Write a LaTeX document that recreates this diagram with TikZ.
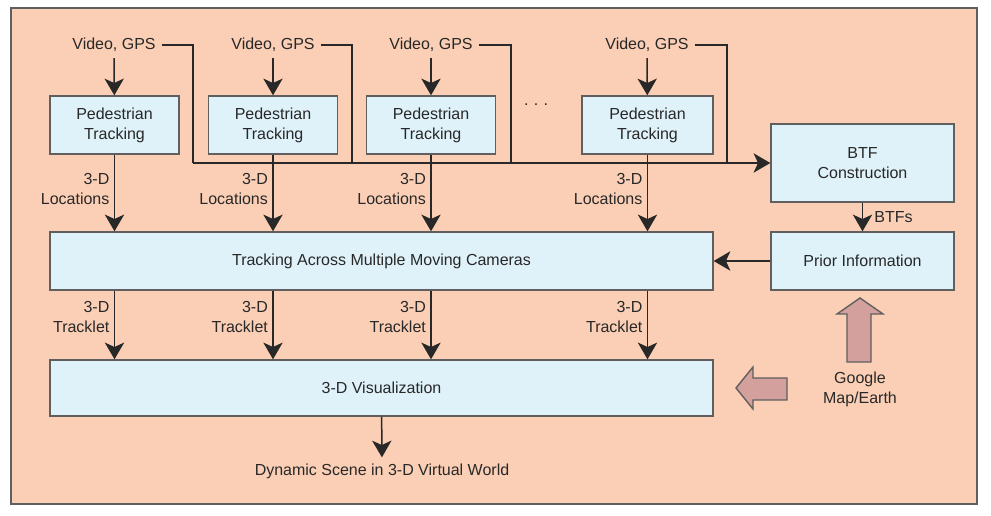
\documentclass[tikz,border=0pt]{standalone}
\usepackage{fontspec}
\setmainfont{Liberation Sans}
\usetikzlibrary{arrows.meta}
\definecolor{peach}{RGB}{251,207,181}
\definecolor{boxblue}{RGB}{223,242,250}
\definecolor{rim}{RGB}{95,95,95}
\definecolor{ink}{RGB}{40,40,40}
\definecolor{rose}{RGB}{211,160,157}
\begin{document}
\begin{tikzpicture}[x=0.02cm, y=-0.02cm, font=\fontsize{9.1}{11.5}\selectfont, text=ink,
  blk/.style={draw=rim, fill=boxblue, line width=0.8pt, align=center, inner sep=0pt},
  arr/.style={draw=ink, line width=0.85pt, -{Stealth[length=9.5pt, width=11pt, inset=2.5pt]}},
  wire/.style={draw=ink, line width=0.85pt},
  lab/.style={align=right, inner sep=2.5pt},
  fat/.style={draw=rim, fill=rose, line width=0.8pt, line join=miter}]
\useasboundingbox (0,0) rectangle (991,516);
\draw[draw=rim, fill=peach, line width=0.8pt] (11,8) rectangle (977,504);

% pedestrian trackers
\node[blk, minimum width=2.58cm, minimum height=1.16cm] (pt1) at (114.5,125) {Pedestrian\\Tracking};
\node[blk, minimum width=2.58cm, minimum height=1.16cm] (pt2) at (273,125) {Pedestrian\\Tracking};
\node[blk, minimum width=2.58cm, minimum height=1.16cm] (pt3) at (431,125) {Pedestrian\\Tracking};
\node[blk, minimum width=2.62cm, minimum height=1.16cm] (pt4) at (647.5,125) {Pedestrian\\Tracking};
\node (dots) at (536,105) {.\,\,.\,\,.};

\node (vg1) at (114,45) {Video, GPS};
\node (vg2) at (273,45) {Video, GPS};
\node (vg3) at (431,45) {Video, GPS};
\node (vg4) at (647,45) {Video, GPS};

\node[blk, minimum width=3.66cm, minimum height=1.56cm] (btf) at (862.5,163) {BTF\\Construction};
\node[blk, minimum width=3.66cm, minimum height=1.16cm] (pri) at (862.5,261) {Prior Information};
\node[blk, minimum width=13.26cm, minimum height=1.16cm] (tr) at (381.5,261) {Tracking Across Multiple Moving Cameras};
\node[blk, minimum width=13.26cm, minimum height=1.12cm] (vis) at (381.5,388) {3-D Visualization};
\node (dyn) at (382,471) {Dynamic Scene in 3-D Virtual World};
\node[align=center] (ggl) at (860,389) {Google\\Map/Earth};

\coordinate (j1) at (193,163);
\coordinate (j2) at (352,163);
\coordinate (j3) at (511,163);
\coordinate (j4) at (727,163);

% inputs
\path[arr] (vg1) -- (pt1);
\path[arr] (vg2) -- (pt2);
\path[arr] (vg3) -- (pt3);
\path[arr] (vg4) -- (pt4);
\path[wire] (vg1.east) -| (j1);
\path[wire] (vg2.east) -| (j2);
\path[wire] (vg3.east) -| (j3);
\path[wire] (vg4.east) -| (j4);
\path[arr] (j1) -- (btf.west);

% locations and tracklets
\path[arr] (pt1) -- node[pos=0.45, left, lab] {3-D\\Locations} (pt1 |- tr.north);
\path[arr] (pt2) -- node[pos=0.45, left, lab] {3-D\\Locations} (pt2 |- tr.north);
\path[arr] (pt3) -- node[pos=0.45, left, lab] {3-D\\Locations} (pt3 |- tr.north);
\path[arr] (pt4) -- node[pos=0.45, left, lab] {3-D\\Locations} (pt4 |- tr.north);
\path[arr] (pt1 |- tr.south) -- node[pos=0.38, left, lab] {3-D\\Tracklet} (pt1 |- vis.north);
\path[arr] (pt2 |- tr.south) -- node[pos=0.38, left, lab] {3-D\\Tracklet} (pt2 |- vis.north);
\path[arr] (pt3 |- tr.south) -- node[pos=0.38, left, lab] {3-D\\Tracklet} (pt3 |- vis.north);
\path[arr] (pt4 |- tr.south) -- node[pos=0.38, left, lab] {3-D\\Tracklet} (pt4 |- vis.north);

\path[arr] (btf) -- node[right, xshift=3pt] {BTFs} (pri);
\path[arr] (pri) -- (tr);
\path[arr] (vis) -- (dyn);

% map arrows
\draw[fat] (847,362) -- (847,314) -- (837,314) -- (860,298) -- (883,314) -- (871,314) -- (871,362) -- cycle;
\draw[fat] (787,378) -- (753,378) -- (753,367) -- (736,388) -- (753,409) -- (753,400) -- (787,400) -- cycle;
\end{tikzpicture}
\end{document}
